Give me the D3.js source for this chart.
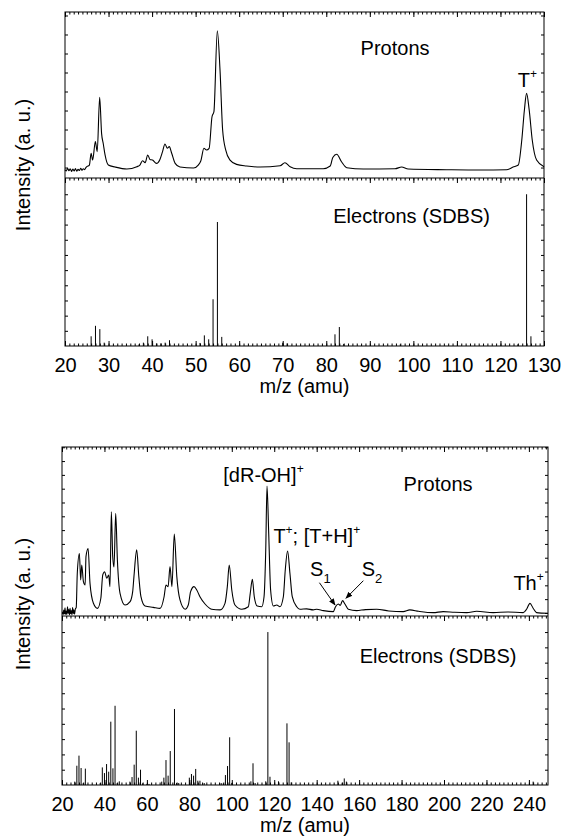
<!DOCTYPE html>
<html>
<head>
<meta charset="utf-8">
<script src="https://cdnjs.cloudflare.com/ajax/libs/d3/7.8.5/d3.min.js"></script>
<style>
  body { margin: 0; background: #fff; }
  svg { font-family: "Liberation Sans", Arial, sans-serif; }
  .frame { fill: none; stroke: #000; stroke-width: 1; }
  .spec { fill: none; stroke: #000; stroke-width: 1.1; }
  .bar { stroke: #000; stroke-width: 1; }
</style>
</head>
<body>
<svg width="563" height="839"></svg>
<script>
// thymine (top) and thymidine (bottom), [m/z, intensity]
var topProtons = [
  [20,5.0],[20.3,4.2],[20.6,5.8],[20.9,4.4],[21.2,5.6],[21.5,4.0],[21.8,5.4],[22.1,4.3],[22.4,5.7],
  [22.7,4.1],[23.0,5.3],[23.3,4.5],[23.6,5.9],[23.9,4.6],[24.2,5.6],[24.5,5.0],[24.8,6.2],
  [25.0,6.8],[25.6,7.8],[26.0,14.9],[26.35,10.8],[26.97,21.9],[27.4,15.9],[27.96,48.6],[28.4,26.9],
  [28.8,20.5],[29.2,13.9],[29.95,7.8],[31.5,6.6],[34.2,5.4],[36.5,6.8],[37.2,7.8],[37.8,10.4],
  [38.4,9.2],[39.0,13.9],[39.5,11.2],[40.1,10.8],[41.0,8.8],[41.8,11.2],[42.4,15.9],[42.96,20.5],
  [43.5,17.9],[43.95,18.9],[44.5,14.9],[45.3,8.8],[46.4,6.6],[49.5,6.0],[50.6,7.8],[51.2,10.4],
  [51.9,17.9],[52.5,16.9],[53.1,17.9],[53.76,36.9],[54.2,40],[54.98,88.7],[55.6,65],[56.2,28.9],
  [56.9,16.9],[57.9,10.8],[59.4,8.2],[61.7,7.2],[64.8,6.6],[69.4,7.4],[70.5,9.2],[71.7,6.8],
  [73.2,5.6],[79.3,5.6],[80.9,7.2],[81.5,12.4],[82.4,14.3],[83.5,9.8],[84.7,6.2],[88.5,5.4],
  [95.8,5.6],[97.3,6.6],[98.8,5.4],[107.6,5.0],[115.3,4.8],[121.4,5.0],[122.9,6.6],[124.1,7.8],
  [124.9,22.9],[125.5,41],[126.0,51],[126.6,41],[127.3,22.9],[128.3,10.8],[130,6.8]
];

var topElectrons = [
  [26,6.4],[27,13.3],[28,11.1],[29,2.2],[37,1.1],[38,2.2],[39,6.4],[40,4.4],[41,1.7],[42,1.7],
  [43,2.2],[44,3.8],[51,2],[52,7],[53,4.4],[54,30.8],[55,81.7],[56,6],[70,2.2],[71,1.7],
  [82,7.7],[83,12.5],[84,1.3],[97,1.1],[124,1.1],[126,100],[127,6.4]
];

var botProtons = [
  [20.2,2.5],[20.5,0.8],[20.8,3.5],[21.1,1.2],[21.4,4.8],[21.7,1.0],[22.0,3.0],[22.3,0.9],[22.6,5.5],
  [22.9,1.5],[23.2,3.8],[23.5,0.7],[23.8,4.5],[24.1,1.3],[24.4,3.2],[24.7,0.8],[25.0,5.0],[25.3,1.4],
  [25.6,3.6],[25.9,1.0],[26.3,4.2],[26.7,5.0],[27.2,25.2],[28.2,37],[28.8,21.3],[29.3,30.2],
  [30.1,20.3],[30.9,18.3],[31.3,35.1],[32.3,39.9],[33.2,19.3],[34.8,7.5],[36.7,4.5],[38.3,10.5],
  [39.2,24.3],[40.1,26.2],[41.1,22.3],[42.0,24.3],[42.6,17.4],[43.25,61.7],[43.9,35.1],[44.5,29],
  [45.3,60.7],[46.1,33.1],[47.35,13.4],[49.7,6.5],[52.1,8.5],[53.3,14.4],[53.9,23.3],[55.2,39.1],
  [56.2,23.3],[57.2,11.4],[59.1,5.9],[63.0,5.1],[66.2,4.5],[68.1,11.4],[69.0,18.3],[70.0,17.4],
  [70.9,29.2],[71.8,17.4],[72.9,48.5],[74.1,23.3],[75.6,9.5],[78.0,4.0],[79.5,6.5],[80.6,14.4],
  [82.2,17.4],[83.5,15.4],[85.0,11.4],[87.4,7.1],[90.5,4.0],[94.5,3.6],[96.8,7.5],[97.9,17.4],
  [98.8,30.2],[100.0,15.4],[101.5,6.5],[104.7,4.0],[107.8,5.5],[108.7,13.4],[109.7,21.7],[110.6,11.4],
  [112.0,5.9],[114.1,5.5],[115.2,11.4],[116.0,39.1],[116.6,76.9],[117.4,48.9],[118.3,15.4],[119.6,5.9],
  [121.2,6.5],[122.7,5.5],[124.3,11.4],[125.2,27.2],[126.3,38.5],[127.4,25.3],[128.5,11.4],[130.6,5.5],
  [132.1,4.0],[135.3,4.2],[138.4,3.6],[140.0,4.0],[143.1,3.2],[147.8,2.6],[148.9,5.5],[150.2,7.1],
  [151.1,6.3],[152.2,9.1],[153.3,7.1],[154.9,4.0],[158.8,3.2],[163,3.8],[168.3,4.0],[174,3.0],
  [180.8,2.6],[183.9,3.6],[188,2.8],[194.9,2.0],[199.6,2.6],[205,2.2],[210.7,2.0],[215.4,2.8],
  [223.2,2.0],[230,2.4],[237.3,2.0],[238.9,4.0],[240.5,7.5],[242.0,4.6],[243.6,2.0],[249,1.6]
];

var botElectrons = [
  [26,2.2],[27,12.6],[28,19.2],[29,11.1],[30,1.3],[31,10.7],[38,1.3],[39,11.5],[40,7.8],[41,13.7],
  [42,8.7],[43,41.4],[44,10.9],[45,51.8],[46,1.3],[47,2.4],[52,2.2],[53,5.2],[54,13.3],[55,35.5],
  [56,4.8],[57,10],[58,1.1],[60,0.7],[61,0.7],[67,2.2],[68,4.8],[69,16.3],[70,6.1],[71,22.2],
  [73,49.7],[74,1.3],[75,1.3],[80,4.8],[81,7.2],[82,6.1],[83,10.5],[84,2.8],[85,2.8],[87,1.3],
  [95,1.3],[96,1.1],[97,6.5],[98,12.4],[99,31.2],[100,1.3],[109,2.4],[110,14.2],[111,1.3],
  [116,2.4],[117,100],[118,5.4],[122,2.4],[126,40.3],[127,27.9],[128,1.7],
  [150,2.8],[152,1.5],[153,4.3],[154,2.2],[242,2.2]
];

var topTickLabels = [20, 30, 40, 50, 60, 70, 80, 90, 100, 110, 120, 130];
var botTickLabels = [20, 40, 60, 80, 100, 120, 140, 160, 180, 200, 220, 240];

var svg = d3.select('svg');

svg.append('defs').append('marker')
  .attr('id', 'arrow').attr('viewBox', '0 0 10 10')
  .attr('refX', 9).attr('refY', 5)
  .attr('markerWidth', 7).attr('markerHeight', 7)
  .attr('markerUnits', 'userSpaceOnUse')
  .attr('orient', 'auto')
  .append('path').attr('d', 'M0,1L10,5L0,9Z').attr('fill', '#000');

function noDomain(s) { s.select('.domain').remove(); }

function xTicks(x, y0, vals, size, down) {
  var ax = (down ? d3.axisBottom(x) : d3.axisTop(x)).tickValues(vals).tickSize(size).tickFormat('');
  svg.append('g').attr('transform', 'translate(0,' + y0 + ')').call(ax).call(noDomain);
}

function yTicks(x0, y, vals, right) {
  var ax = (right ? d3.axisRight(y) : d3.axisLeft(y)).tickValues(vals).tickSize(3).tickFormat('');
  svg.append('g').attr('transform', 'translate(' + x0 + ',0)').call(ax).call(noDomain);
}

function label(x, y, parts, anchor) {
  var t = svg.append('text').attr('x', x).attr('y', y)
    .attr('font-size', 20).attr('text-anchor', anchor || 'start');
  parts.forEach(function (p) {
    var ts = t.append('tspan').text(p[0]);
    if (p[1] == 'sup') ts.attr('font-size', 12).attr('dy', -9);
    if (p[1] == 'sub') ts.attr('font-size', 13).attr('dy', 7);
    if (p[1] == 'back') ts.attr('dy', 9);
  });
  return t;
}

function drawChart(c) {
  var x = c.x, yP = c.yP, yE = c.yE;
  var L = x.range()[0], R = x.range()[1];
  var top = yP.range()[1], mid = yP.range()[0], bot = yE.range()[0];

  // spectrum lines / bars
  svg.append('path').datum(c.protons).attr('class', 'spec')
    .attr('d', d3.line()
      .x(function (d) { return x(d[0]); })
      .y(function (d) { return yP(d[1]); })
      .curve(d3.curveMonotoneX));

  svg.append('g').selectAll('line').data(c.electrons).enter().append('line')
    .attr('class', 'bar')
    .attr('x1', function (d) { return x(d[0]); })
    .attr('x2', function (d) { return x(d[0]); })
    .attr('y1', yE(0))
    .attr('y2', function (d) { return yE(d[1]); });

  // frames
  svg.append('rect').attr('class', 'frame')
    .attr('x', L).attr('y', top).attr('width', R - L).attr('height', bot - top);
  svg.append('line').attr('class', 'frame').attr('x1', L).attr('x2', R).attr('y1', mid).attr('y2', mid);

  // inward ticks
  [top, mid].forEach(function (yy) {
    xTicks(x, yy, c.minor, 2.5, true);
    xTicks(x, yy, c.labels, 5, true);
  });
  xTicks(x, bot, c.minor, 2.5, false);
  xTicks(x, bot, c.labels, 5, false);

  yTicks(L, yP, c.pTicks, true);
  yTicks(R, yP, c.pTicks, false);
  yTicks(L, yE, c.eTicks, true);
  yTicks(R, yE, c.eTicks, false);

  // tick labels
  var lab = svg.append('g').attr('transform', 'translate(0,' + bot + ')')
    .call(d3.axisBottom(x).tickValues(c.labels).tickSize(0).tickPadding(12))
    .call(noDomain);
  lab.attr('font-size', 20).attr('font-family', null);
  lab.selectAll('text').attr('fill', '#000');

  label((L + R) / 2, bot + 47, [['m/z (amu)']], 'middle');
  label(0, 0, [['Intensity (a. u.)']], 'middle')
    .attr('x', null).attr('y', null)
    .attr('transform', 'translate(30,' + c.titleY + ') rotate(-90)');
}

// top: thymine
var xTop = d3.scaleLinear().domain([20, 130]).range([65, 544]);
var yTopP = d3.scaleLinear().domain([0, 100]).range([178, 12]);
var yTopE = d3.scaleLinear().domain([0, 110.7]).range([346, 178]);

drawChart({
  x: xTop, yP: yTopP, yE: yTopE,
  protons: topProtons, electrons: topElectrons,
  labels: topTickLabels, minor: d3.range(20, 131, 1),
  pTicks: d3.range(6.3, 100, 11.45), eTicks: d3.range(10, 110, 10),
  titleY: 165
});

label(xTop(95.8), yTopP(74), [['Protons']], 'middle');
label(xTop(124.0), yTopP(54.8), [['T'], ['+', 'sup']]);
label(xTop(99.6), yTopE(80.9), [['Electrons (SDBS)']], 'middle');

// bottom: thymidine
var xBot = d3.scaleLinear().domain([20, 249]).range([62, 548]);
var yBotP = d3.scaleLinear().domain([0, 100]).range([616, 447]);
var yBotE = d3.scaleLinear().domain([0, 110.5]).range([785, 616]);

drawChart({
  x: xBot, yP: yBotP, yE: yBotE,
  protons: botProtons, electrons: botElectrons,
  labels: botTickLabels, minor: d3.range(20, 249, 2),
  pTicks: d3.range(1.8, 100, 8.17), eTicks: d3.range(10, 110, 10),
  titleY: 604
});

label(xBot(96.0), yBotP(79.3), [['[dR-OH]'], ['+', 'sup']]);
label(xBot(119.6), yBotP(43), [['T'], ['+', 'sup'], ['; [T+H]', 'back'], ['+', 'sup']]);
label(xBot(197.2), yBotP(74.1), [['Protons']], 'middle');
label(xBot(136.9), yBotP(23.7), [['S'], ['1', 'sub']]);
label(xBot(161.2), yBotP(23.7), [['S'], ['2', 'sub']]);
label(xBot(232.7), yBotP(15.4), [['Th'], ['+', 'sup']]);
label(xBot(197.2), yBotE(79.9), [['Electrons (SDBS)']], 'middle');

var arrows = [
  [[141.3, 19.7], [148.65, 6.5]],
  [[162.0, 20.9], [153.8, 10.5]]
];
svg.append('g').selectAll('line').data(arrows).enter().append('line')
  .attr('stroke', '#000').attr('stroke-width', 1)
  .attr('x1', function (d) { return xBot(d[0][0]); })
  .attr('y1', function (d) { return yBotP(d[0][1]); })
  .attr('x2', function (d) { return xBot(d[1][0]); })
  .attr('y2', function (d) { return yBotP(d[1][1]); })
  .attr('marker-end', 'url(#arrow)');
</script>
</body>
</html>
